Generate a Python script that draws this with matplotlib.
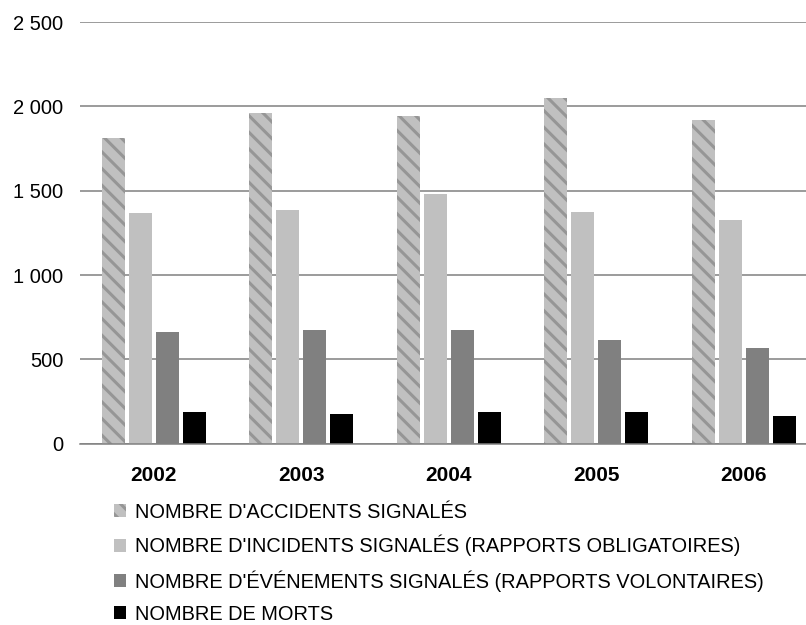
import matplotlib
matplotlib.use("Agg")
import matplotlib.pyplot as plt
from matplotlib.patches import Patch
import numpy as np

years = ["2002", "2003", "2004", "2005", "2006"]
accidents = [1810, 1963, 1942, 2049, 1919]
incidents = [1370, 1384, 1480, 1373, 1326]
evenements = [660, 672, 673, 614, 566]
morts = [186, 174, 187, 187, 163]

labels = [
    "NOMBRE D'ACCIDENTS SIGNALÉS",
    "NOMBRE D'INCIDENTS SIGNALÉS (RAPPORTS OBLIGATOIRES)",
    "NOMBRE D'ÉVÉNEMENTS SIGNALÉS (RAPPORTS VOLONTAIRES)",
    "NOMBRE DE MORTS",
]

plt.rcParams['font.family'] = ['Liberation Sans', 'DejaVu Sans']
plt.rcParams['hatch.linewidth'] = 2.2

fig = plt.figure(figsize=(8.06, 6.25), dpi=100)
ax = fig.add_axes([80 / 806, 1 - 443.7 / 625, 737.5 / 806, 421.7 / 625])

x = np.arange(len(years))
w = 0.155
step = 0.183
series = [accidents, incidents, evenements, morts]
colors = ['#c0c0c0', '#c0c0c0', '#808080', '#000000']
hatches = ['\\\\', None, None, None]
edges = ['#969696', '#c0c0c0', '#808080', '#000000']

for i, vals in enumerate(series):
    off = (i - 1.5) * step
    ax.bar(x + off, vals, w, color=colors[i], edgecolor=edges[i], linewidth=0,
           hatch=hatches[i], zorder=3)

ax.set_xlim(-0.5, len(years) - 0.5)
ax.set_ylim(0, 2500)
ax.set_yticks([0, 500, 1000, 1500, 2000, 2500])
ax.set_yticklabels(["0", "500", "1 000", "1 500", "2 000", "2 500"], fontsize=14.5)
ax.set_xticks(x)
ax.set_xticklabels(years, fontsize=15, fontweight='bold')
ax.tick_params(axis='y', length=0, pad=12)
ax.tick_params(axis='x', length=0, pad=16)
ax.grid(axis='y', color='#808080', linewidth=1.1, zorder=0)
for s in ['top', 'left', 'right']:
    ax.spines[s].set_visible(False)
ax.spines['bottom'].set_color('#808080')
ax.spines['bottom'].set_linewidth(1.1)
ax.spines['bottom'].set_zorder(4)

handles = [Patch(facecolor=colors[i], edgecolor=edges[i], linewidth=0, hatch=hatches[i])
           for i in range(4)]
fig.legend(handles, labels, loc='upper left', bbox_to_anchor=(114 / 806, 1 - 502.5 / 625),
           frameon=False, fontsize=14.4, handlelength=0.62, handleheight=0.62,
           handletextpad=0.45, labelspacing=0.675, borderaxespad=0, borderpad=0)

fig.savefig("out.png", dpi=100)
